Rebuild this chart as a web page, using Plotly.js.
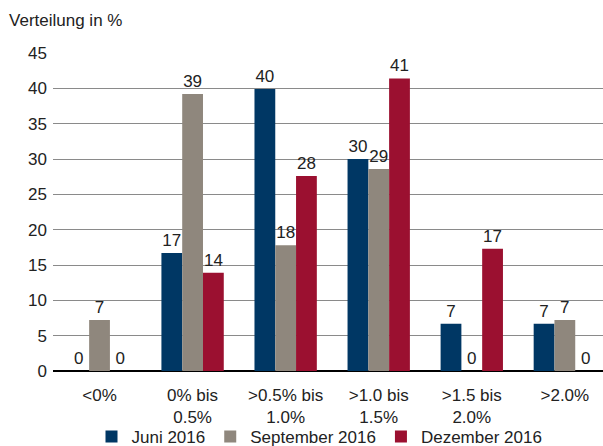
<!DOCTYPE html>
<html>
<head>
<meta charset="utf-8">
<script src="https://cdn.plot.ly/plotly-3.0.1.min.js"></script>
<style>html,body{margin:0;padding:0;background:#fff;}#chart{width:603px;height:446px;}</style>
</head>
<body>
<div id="chart"></div>
<script>
var categories = ['<0%', '0% bis<br>0.5%', '>0.5% bis<br>1.0%', '>1.0 bis<br>1.5%', '>1.5 bis<br>2.0%', '>2.0%'];
var juni2016 = [0, 16.7, 39.9, 30.0, 6.7, 6.7];
var september2016 = [7.2, 39.2, 17.8, 28.6, 0, 7.2];
var dezember2016 = [0, 13.9, 27.6, 41.4, 17.3, 0];
var yTicks = [0, 5, 10, 15, 20, 25, 30, 35, 40, 45];

var font = {family: 'Liberation Sans, Arial, sans-serif', size: 17, color: '#222'};
function series(name, values, color) {
  return {
    type: 'bar', name: name, x: categories, y: values,
    marker: {color: color},
    texttemplate: '%{y:.0f}', textposition: 'outside',
    textfont: font, cliponaxis: false, hoverinfo: 'skip'
  };
}
var data = [
  series('Juni 2016', juni2016, '#003764'),
  series('September 2016', september2016, '#8f877d'),
  series('Dezember 2016', dezember2016, '#9b1030')
];
var layout = {
  width: 603, height: 446,
  margin: {l: 53, r: 0, t: 53, b: 75, autoexpand: false},
  paper_bgcolor: '#fff', plot_bgcolor: '#fff',
  font: font,
  barmode: 'group', bargap: 0.33, bargroupgap: 0,
  showlegend: true,
  title: {text: 'Verteilung in %', x: 0.015, xanchor: 'left', y: 0.955, yanchor: 'middle', font: font},
  xaxis: {
    range: [-0.5, 5.41], showgrid: false, zeroline: false,
    showline: false, ticks: '', tickfont: font, ticklabelstandoff: 12, automargin: false
  },
  yaxis: {
    range: [0, 45], tickvals: yTicks, showgrid: true, gridcolor: '#8a8a8a', gridwidth: 1,
    zeroline: true, zerolinecolor: '#000', zerolinewidth: 2,
    showline: false, ticks: '', tickfont: font, ticklabelstandoff: 5, automargin: false
  },
  legend: {
    orientation: 'h', x: 0.07, xanchor: 'left', y: -0.207, yanchor: 'middle',
    font: font, itemwidth: 30, tracegroupgap: 0, bgcolor: 'rgba(0,0,0,0)'
  }
};
Plotly.newPlot('chart', data, layout, {displayModeBar: false, staticPlot: true});
</script>
</body>
</html>
